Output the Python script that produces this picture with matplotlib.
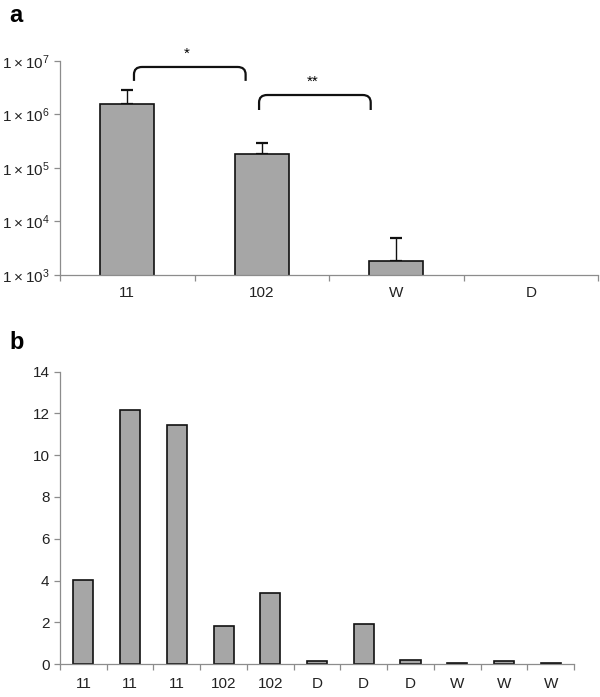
import numpy as np
import matplotlib
matplotlib.use("Agg")
import matplotlib.pyplot as plt
from matplotlib.path import Path
from matplotlib.patches import PathPatch
import matplotlib.transforms as mtransforms

plt.rcParams["font.family"] = ["Liberation Sans", "DejaVu Sans"]
plt.rcParams["mathtext.fontset"] = "custom"
plt.rcParams["mathtext.rm"] = "Liberation Sans"

# =========================
# Data
# =========================
# panel a (log scale, D has no bar)
a_labels = ["11", "102", "W", "D"]
a_values = [1.57e6, 1.83e5, 1.85e3, 0]
a_err_up = [1.3e6, 1.1e5, 3.0e3, 0]

# panel b
b_labels = ["11", "11", "11", "102", "102", "D", "D", "D", "W", "W", "W"]
b_values = [4.02, 12.15, 11.47, 1.83, 3.38, 0.14, 1.9, 0.19, 0.05, 0.14, 0.07]

BAR_COLOR = "#a6a6a6"
AXIS_COLOR = "#8c8c8c"


def style_axes(ax):
    for side in ["top", "right"]:
        ax.spines[side].set_visible(False)
    for side in ["left", "bottom"]:
        ax.spines[side].set_color(AXIS_COLOR)
        ax.spines[side].set_linewidth(0.9)
    ax.tick_params(which="both", color=AXIS_COLOR, length=4, width=0.9,
                   labelsize=11, labelcolor="#222222")


def bracket(ax, x0, x1, ytop, yend, text):
    trans = mtransforms.blended_transform_factory(ax.transData, ax.transAxes)
    rx = 0.06
    ry = 0.035
    verts = [(x0, yend), (x0, ytop - ry), (x0, ytop), (x0 + rx, ytop),
             (x1 - rx, ytop), (x1, ytop), (x1, ytop - ry), (x1, yend)]
    codes = [Path.MOVETO, Path.LINETO, Path.CURVE3, Path.CURVE3,
             Path.LINETO, Path.CURVE3, Path.CURVE3, Path.LINETO]
    patch = PathPatch(Path(verts, codes), transform=trans, fill=False,
                      lw=1.6, color="#111111", clip_on=False)
    ax.add_patch(patch)
    ax.text((x0 + x1) / 2 - 0.02, ytop + 0.03, text, transform=trans,
            ha="center", va="bottom", fontsize=11, clip_on=False)


fig = plt.figure(figsize=(6, 6.97), dpi=100)

# =========================
# Panel a
# =========================
ax1 = fig.add_axes([0.1, 0.6055, 0.8967, 0.307])
xa = np.arange(len(a_labels))
vals = [v if v > 0 else np.nan for v in a_values]
ax1.bar(xa, vals, width=0.4, color=BAR_COLOR, edgecolor="#111111", lw=1.2,
        bottom=0, zorder=2)
ax1.errorbar(xa[:3], a_values[:3], yerr=[[0, 0, 0], a_err_up[:3]], fmt="none",
             ecolor="#111111", elinewidth=1.0, capsize=4, capthick=1.6, zorder=1)
ax1.set_yscale("log")
ax1.set_ylim(1e3, 1e7)
ax1.set_xlim(-0.5, 3.5)
ax1.set_yticks([1e3, 1e4, 1e5, 1e6, 1e7])
ax1.set_yticklabels([r"$\mathregular{1 \times 10^{%d}}$" % e for e in range(3, 8)])
ax1.yaxis.set_minor_locator(matplotlib.ticker.NullLocator())
ax1.set_xticks(np.arange(-0.5, 3.6, 1.0))
ax1.set_xticklabels([])
ax1.set_xticks(xa, minor=True)
ax1.set_xticklabels(a_labels, minor=True)
style_axes(ax1)
ax1.tick_params(axis="x", which="minor", length=0, pad=8)

bracket(ax1, 0.05, 0.88, 0.972, 0.907, "*")
bracket(ax1, 0.98, 1.81, 0.841, 0.771, "**")

fig.text(0.015, 0.978, "a", fontsize=17, fontweight="bold", va="center")

# =========================
# Panel b
# =========================
ax2 = fig.add_axes([0.1, 0.0473, 0.8567, 0.4194])
xb = np.arange(len(b_labels))
ax2.bar(xb, b_values, width=0.43, color=BAR_COLOR, edgecolor="#111111", lw=1.2)
ax2.set_ylim(0, 14)
ax2.set_yticks(range(0, 15, 2))
ax2.set_xlim(-0.5, len(b_labels) - 0.5)
ax2.set_xticks(np.arange(-0.5, len(b_labels), 1.0))
ax2.set_xticklabels([])
ax2.set_xticks(xb, minor=True)
ax2.set_xticklabels(b_labels, minor=True)
style_axes(ax2)
ax2.tick_params(axis="x", which="minor", length=0, pad=9)

fig.text(0.015, 0.508, "b", fontsize=17, fontweight="bold", va="center")

fig.savefig("out.png", dpi=100)
